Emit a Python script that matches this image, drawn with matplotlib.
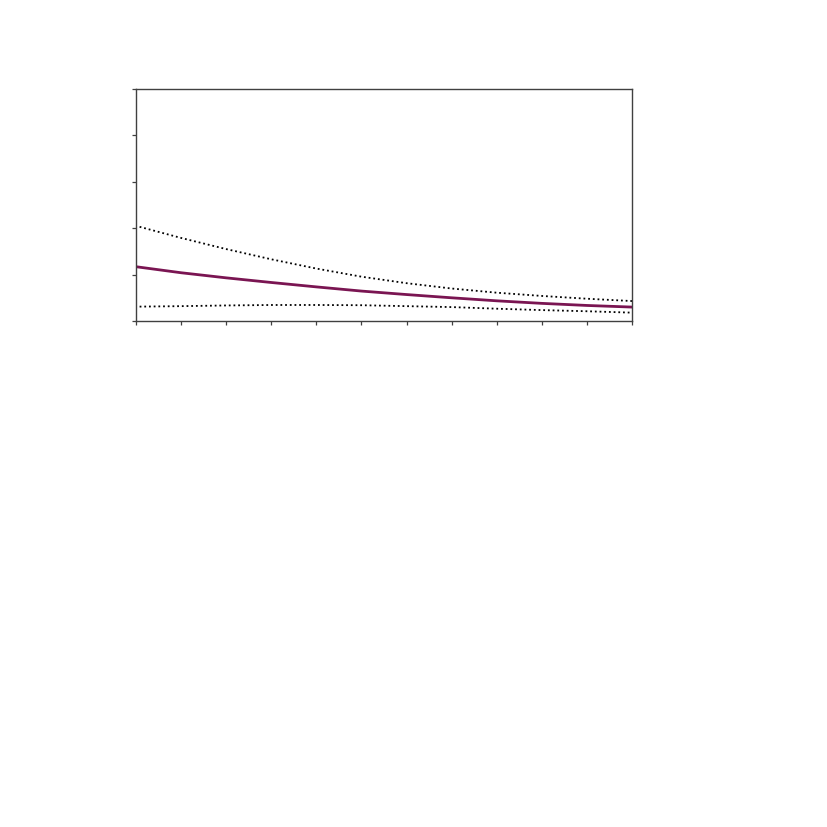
import matplotlib

matplotlib.use("Agg")
import matplotlib.pyplot as plt

# values (x = 0..11)
x = [0, 1, 2, 3, 4, 5, 6, 7, 8, 9, 10, 11]
estimate = [1.17, 1.04, 0.93, 0.83, 0.735, 0.645, 0.57, 0.50, 0.435, 0.38, 0.335, 0.30]
upper = [2.03, 1.79, 1.55, 1.33, 1.13, 0.955, 0.815, 0.70, 0.61, 0.54, 0.48, 0.43]
lower = [0.31, 0.32, 0.335, 0.345, 0.345, 0.34, 0.32, 0.30, 0.265, 0.235, 0.21, 0.18]

# dotted bands start a touch right of the y axis in the reference
band_x = [0.08] + x[1:]

fig = plt.figure(figsize=(8.27, 8.27), dpi=100)
ax = fig.add_axes([136 / 827, 1 - 321 / 827, (632 - 136) / 827, (321 - 89) / 827])

ax.plot(band_x, upper, color="black", linestyle=(0, (1, 1.6)), linewidth=1.3)
ax.plot(band_x, lower, color="black", linestyle=(0, (1, 1.6)), linewidth=1.3)
ax.plot(x, estimate, color="#7a1552", linewidth=2.0)

ax.set_xlim(0, 11)
ax.set_ylim(0, 5)
ax.set_xticks(range(0, 12))
ax.set_yticks(range(0, 6))
ax.set_xticklabels([])
ax.set_yticklabels([])
ax.tick_params(direction="out", length=3, width=0.9, color="#404040")
for s in ax.spines.values():
    s.set_color("#404040")
    s.set_linewidth(1.0)

fig.savefig("out.png", dpi=100)
